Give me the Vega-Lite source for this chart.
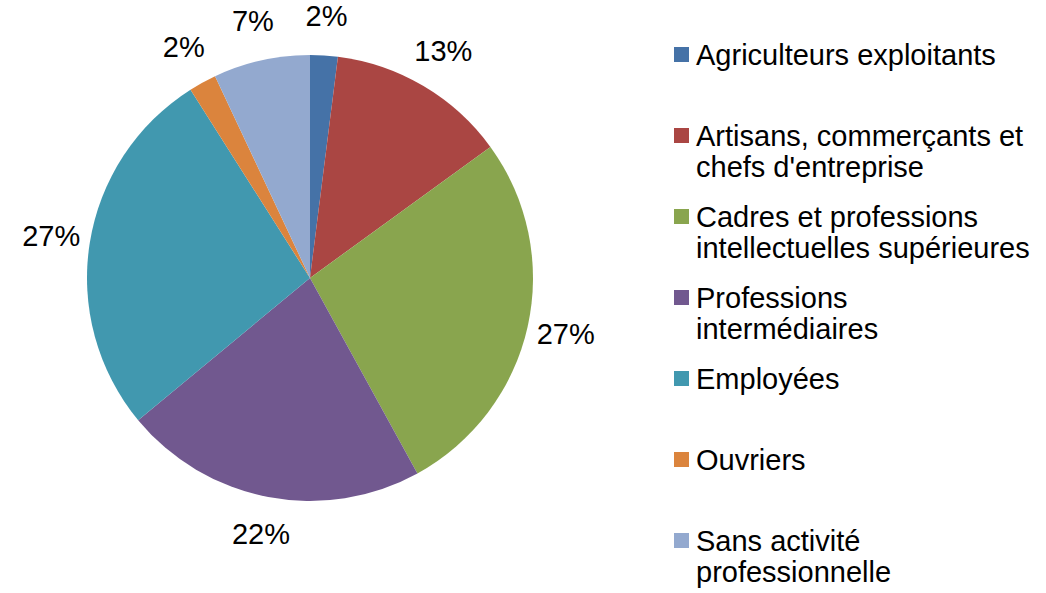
{
  "$schema": "https://vega.github.io/schema/vega-lite/v6.json",
  "width": 620,
  "height": 556,
  "padding": 0,
  "background": "white",
  "config": {"view": {"stroke": null}, "font": "Liberation Sans"},
  "data": {
    "values": [
      {"categorie": "Agriculteurs exploitants", "part": 0.02, "ordre": 1},
      {"categorie": "Artisans, commerçants et chefs d'entreprise", "part": 0.13, "ordre": 2},
      {"categorie": "Cadres et professions intellectuelles supérieures", "part": 0.27, "ordre": 3},
      {"categorie": "Professions intermédiaires", "part": 0.22, "ordre": 4},
      {"categorie": "Employées", "part": 0.27, "ordre": 5},
      {"categorie": "Ouvriers", "part": 0.02, "ordre": 6},
      {"categorie": "Sans activité professionnelle", "part": 0.07, "ordre": 7}
    ]
  },
  "encoding": {
    "theta": {"field": "part", "type": "quantitative", "stack": true},
    "order": {"field": "ordre", "type": "quantitative"}
  },
  "layer": [
    {
      "mark": {"type": "arc", "outerRadius": 223},
      "encoding": {
        "color": {
          "field": "categorie",
          "type": "nominal",
          "scale": {
            "domain": ["Agriculteurs exploitants", "Artisans, commerçants et chefs d'entreprise", "Cadres et professions intellectuelles supérieures", "Professions intermédiaires", "Employées", "Ouvriers", "Sans activité professionnelle"],
            "range": ["#4572A7", "#AA4643", "#89A54E", "#71588F", "#4198AF", "#DB843D", "#93A9CF"]
          },
          "legend": {
            "title": null,
            "orient": "none",
            "legendX": 667,
            "legendY": 40,
            "padding": 0,
            "direction": "vertical",
            "columns": 1,
            "gridAlign": "all",
            "symbolType": "square",
            "symbolSize": 225,
            "symbolStrokeWidth": 0,
            "symbolOpacity": 1,
            "labelFont": "Liberation Sans",
            "labelFontSize": 29,
            "labelColor": "#000000",
            "labelOffset": 0,
            "labelLimit": 500,
            "labelBaseline": "alphabetic",
            "rowPadding": 19,
            "labelExpr": "datum.label == 'Professions intermédiaires' ? ['Professions', 'intermédiaires'] : datum.label == 'Sans activité professionnelle' ? ['Sans activité', 'professionnelle'] : indexof(datum.label, 'Artisans') == 0 ? ['Artisans, commerçants et', \"chefs d'entreprise\"] : indexof(datum.label, 'Cadres') == 0 ? ['Cadres et professions', 'intellectuelles supérieures'] : datum.label",
            "encode": {
              "labels": {"update": {"dy": {"value": 10}, "lineHeight": {"value": 31.5}}}
            }
          }
        }
      }
    },
    {
      "mark": {"type": "text", "radius": 262, "fontSize": 29, "color": "#000000", "font": "Liberation Sans"},
      "encoding": {
        "text": {"field": "part", "type": "quantitative", "format": ".0%"}
      }
    }
  ]
}
